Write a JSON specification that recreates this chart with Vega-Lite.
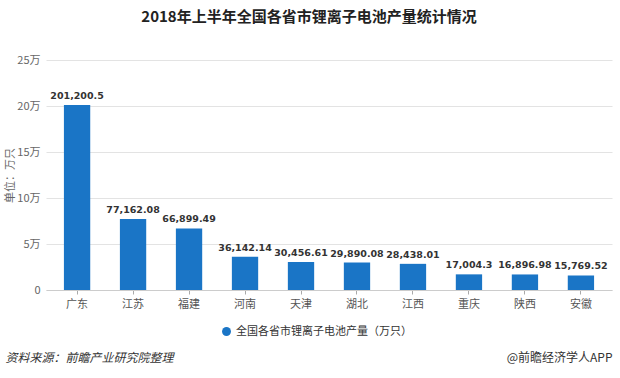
{
  "$schema": "https://vega.github.io/schema/vega-lite/v6.json",
  "autosize": {"type": "none"},
  "width": 566,
  "height": 230,
  "padding": {"left": 46, "top": 60, "right": 8, "bottom": 88},
  "background": "#ffffff",
  "title": {
    "text": "2018年上半年全国各省市锂离子电池产量统计情况",
    "font": "Noto Sans CJK SC",
    "fontSize": 15,
    "fontWeight": "bold",
    "color": "#222222",
    "anchor": "middle",
    "dx": -20,
    "offset": 29
  },
  "config": {
    "view": {"stroke": null},
    "font": "Noto Sans CJK SC"
  },
  "data": {
    "values": [
      {"province": "广东", "value": 201200.5, "series": "全国各省市锂离子电池产量（万只）"},
      {"province": "江苏", "value": 77162.08, "series": "全国各省市锂离子电池产量（万只）"},
      {"province": "福建", "value": 66899.49, "series": "全国各省市锂离子电池产量（万只）"},
      {"province": "河南", "value": 36142.14, "series": "全国各省市锂离子电池产量（万只）"},
      {"province": "天津", "value": 30456.61, "series": "全国各省市锂离子电池产量（万只）"},
      {"province": "湖北", "value": 29890.08, "series": "全国各省市锂离子电池产量（万只）"},
      {"province": "江西", "value": 28438.01, "series": "全国各省市锂离子电池产量（万只）"},
      {"province": "重庆", "value": 17004.3, "series": "全国各省市锂离子电池产量（万只）"},
      {"province": "陕西", "value": 16896.98, "series": "全国各省市锂离子电池产量（万只）"},
      {"province": "安徽", "value": 15769.52, "series": "全国各省市锂离子电池产量（万只）"}
    ]
  },
  "encoding": {
    "x": {
      "field": "province",
      "type": "nominal",
      "sort": null,
      "scale": {"paddingInner": 0.53, "paddingOuter": 0.32},
      "axis": {
        "title": "资料来源：前瞻产业研究院整理",
        "titleFont": "Noto Sans CJK SC",
        "titleFontSize": 12,
        "titleFontWeight": "normal",
        "titleFontStyle": "italic",
        "titleColor": "#333333",
        "titleAnchor": "start",
        "titleAlign": "left",
        "titleBaseline": "middle",
        "titleX": -41,
        "titleY": 67,
        "labelAngle": 0,
        "labelFontSize": 11,
        "labelColor": "#555555",
        "labelPadding": 4,
        "domainColor": "#cccccc",
        "tickColor": "#aaaaaa",
        "tickSize": 4,
        "grid": false
      }
    }
  },
  "layer": [
    {
      "mark": {"type": "bar", "color": "#1a75c6"},
      "encoding": {
        "y": {
          "field": "value",
          "type": "quantitative",
          "scale": {"domain": [0, 250000]},
          "axis": {
            "values": [0, 50000, 100000, 150000, 200000, 250000],
            "labelExpr": "datum.value == 0 ? '0' : (datum.value / 10000) + '万'",
            "title": "单位：万只",
            "titleFont": "Noto Sans CJK SC",
            "titleFontSize": 11,
            "titleFontWeight": "normal",
            "titleColor": "#666666",
            "titleAngle": -90,
            "titleX": -36,
            "titleY": 115,
            "titleAlign": "center",
            "titleBaseline": "middle",
            "labelFontSize": 11,
            "labelColor": "#666666",
            "labelPadding": 6,
            "ticks": false,
            "domain": false,
            "grid": true,
            "gridColor": "#e3e3e3"
          }
        },
        "color": {
          "field": "series",
          "type": "nominal",
          "scale": {"range": ["#1a75c6"]},
          "legend": {
            "title": null,
            "orient": "none",
            "legendX": 175,
            "legendY": 266,
            "symbolType": "circle",
            "symbolSize": 80,
            "labelFontSize": 11,
            "labelLimit": 400,
            "labelColor": "#333333",
            "labelFont": "Noto Sans CJK SC"
          }
        }
      }
    },
    {
      "mark": {
        "type": "text",
        "dy": -9,
        "fontSize": 9.5,
        "fontWeight": "bold",
        "color": "#333333",
        "font": "DejaVu Sans"
      },
      "encoding": {
        "y": {
          "field": "value",
          "type": "quantitative",
          "scale": {"domain": [0, 250000]},
          "axis": {
            "orient": "right",
            "labels": false,
            "ticks": false,
            "domain": false,
            "grid": false,
            "title": "@前瞻经济学人APP",
            "titleFont": "Noto Sans CJK SC",
            "titleFontSize": 12,
            "titleFontWeight": "normal",
            "titleColor": "#333333",
            "titleAngle": 0,
            "titleAlign": "right",
            "titleBaseline": "middle",
            "titleX": 0,
            "titleY": 297
          }
        },
        "text": {"field": "value", "type": "quantitative", "format": ","}
      }
    }
  ],
  "resolve": {"axis": {"y": "independent"}}
}
